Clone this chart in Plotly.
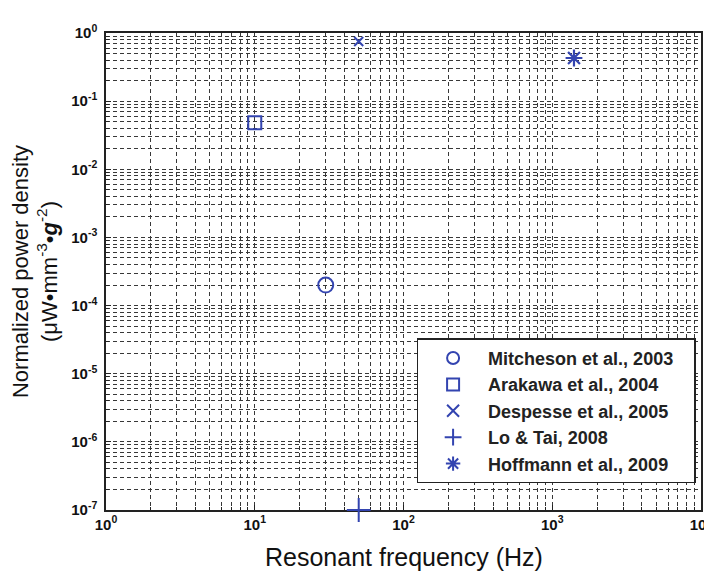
import plotly.graph_objects as go

# Data
labels = ["Mitcheson et al., 2003", "Arakawa et al., 2004", "Despesse et al., 2005",
          "Lo & Tai, 2008", "Hoffmann et al., 2009"]
freq_hz = [30, 10, 50, 50, 1400]
power_density = [2e-4, 4.8e-2, 0.75, 1e-7, 0.43]
symbols = ["circle-open", "square-open", "x-thin-open", "cross-thin-open", "asterisk-open"]
sizes = [15, 13, 9, 17, 14]

x_tick_vals = [1, 10, 100, 1000, 10000]
x_tick_text = ["<b>10<sup>0</sup></b>", "<b>10<sup>1</sup></b>", "<b>10<sup>2</sup></b>",
               "<b>10<sup>3</sup></b>", "<b>10<sup>4</sup></b>"]
y_tick_vals = [1e-7, 1e-6, 1e-5, 1e-4, 1e-3, 1e-2, 1e-1, 1]
y_tick_text = ["<b>10<sup>-7</sup></b>", "<b>10<sup>-6</sup></b>", "<b>10<sup>-5</sup></b>",
               "<b>10<sup>-4</sup></b>", "<b>10<sup>-3</sup></b>", "<b>10<sup>-2</sup></b>",
               "<b>10<sup>-1</sup></b>", "<b>10<sup>0</sup></b>"]
x_title = "Resonant frequency (Hz)"
y_title = "Normalized power density<br>(μW•mm<sup>-3</sup>•<b><i>g</i></b><sup>-2</sup>)"

blue = "#3344b0"

fig = go.Figure()
for i, (lab, x, y, s, sz) in enumerate(zip(labels, freq_hz, power_density, symbols, sizes)):
    fig.add_trace(go.Scatter(
        x=[x], y=[y], mode="markers", name="<b>" + lab + "</b>&nbsp;&nbsp;&nbsp;", legendgroup=f"g{i}",
        marker=dict(symbol=s, size=sz, color=blue,
                    line=dict(color=blue, width=2.2 if "asterisk" in s else 2)),
        cliponaxis=False,
    ))

grid_col = "#383838"
axis_common = dict(
    type="log",
    showline=True, linecolor="#222", linewidth=1.5, mirror=True,
    ticks="inside", ticklen=5, tickcolor="#222",
    showgrid=True, gridcolor=grid_col, griddash="4px,3px", gridwidth=1,
    minor=dict(dtick="D1", showgrid=True, gridcolor=grid_col, griddash="4px,3px", gridwidth=1,
               ticks="inside", ticklen=3, tickcolor="#222"),
    tickfont=dict(family="Liberation Sans, Arial", size=15, color="#111"),
    zeroline=False,
    layer="below traces",
    automargin=False,
    ticklabeloverflow="allow",
)

# page body has an 8px default margin: figure is sized/margined so the plot
# area lands at x 106..701, y 33..510 of the 712x571 window
fig.update_layout(
    width=704, height=563,
    margin=dict(l=98, r=11, t=25, b=61),
    paper_bgcolor="white", plot_bgcolor="white",
    xaxis=dict(axis_common, range=[0, 4], tickmode="array", tickvals=x_tick_vals, ticktext=x_tick_text),
    yaxis=dict(axis_common, range=[-7, 0], tickmode="array", tickvals=y_tick_vals, ticktext=y_tick_text,
               ticklabelstandoff=4,
               title=dict(text=y_title,
                          font=dict(family="Liberation Sans, Arial", size=22, color="#111"), standoff=8)),
    legend=dict(x=0.522, y=0.36, xanchor="left", yanchor="top",
                bgcolor="white", bordercolor="#222", borderwidth=1.5,
                font=dict(family="Liberation Sans, Arial", size=18, color="#222"),
                itemsizing="constant", itemwidth=60, tracegroupgap=0),
    showlegend=True,
    annotations=[dict(text=x_title, xref="paper", yref="paper", x=0.5, y=-0.0985,
                      xanchor="center", yanchor="middle", showarrow=False,
                      font=dict(family="Liberation Sans, Arial", size=25, color="#111"))],
)

fig.write_html("out.html")
